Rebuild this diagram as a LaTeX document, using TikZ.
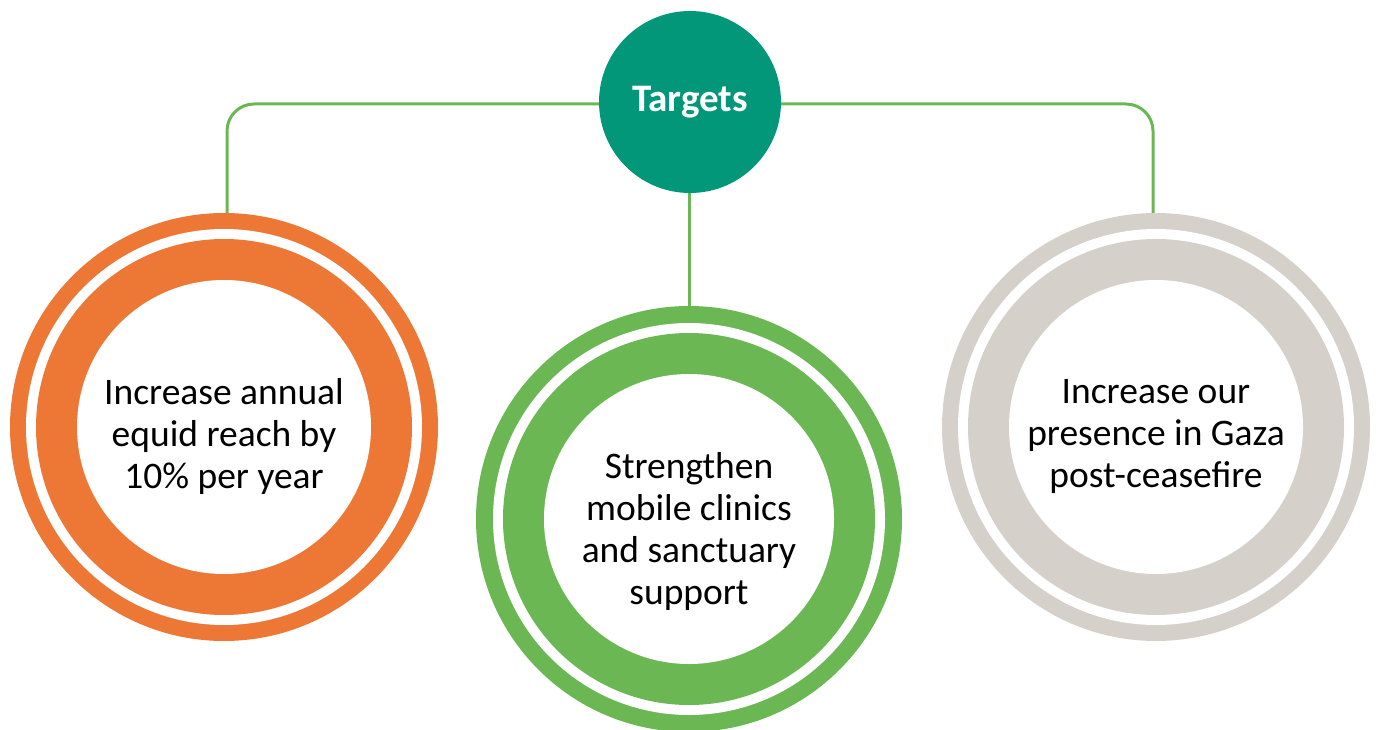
\documentclass[tikz,border=0pt]{standalone}
\usepackage{fontspec}
\setmainfont{Carlito}
\definecolor{cteal}{HTML}{03977A}
\definecolor{corange}{HTML}{ED7835}
\definecolor{cgreen}{HTML}{6BB753}
\definecolor{cgrey}{HTML}{D5D1CA}
\begin{document}
\begin{tikzpicture}[x=1pt,y=-1pt,
  hub/.style={circle,fill=cteal,minimum size=182pt,inner sep=0pt,text=white,font=\fontsize{39}{44}\selectfont\bfseries},
  ringouter/.style={circle,fill=#1,minimum size=428pt,inner sep=0pt},
  lbl/.style={align=center,font=\fontsize{37.5}{42}\selectfont,text=black},
  conn/.style={draw=cgreen,line width=3pt,rounded corners=27pt}]
\useasboundingbox (0,0) rectangle (1378,730);
\clip (0,0) rectangle (1378,730);
% outer circles
\node[ringouter=corange] (lc) at (224,427) {};
\node[ringouter=cgreen,minimum size=426pt] (mc) at (689,519) {};
\node[ringouter=cgrey] (rc) at (1156,427) {};
% inner rings
\foreach \c/\x/\y/\a/\b/\d in {corange/224/427/198/188/147, cgreen/689/519/196/186/145, cgrey/1156/427/198/188/147}{
  \fill[white] (\x,\y) circle[radius=\a];
  \fill[\c] (\x,\y) circle[radius=\b];
  \fill[white] (\x,\y) circle[radius=\d];
}
% hub
\node[hub] (tg) at (690,102) {Targets};
% connectors
\draw[conn] ([yshift=-2pt]tg.west) -| ([xshift=3pt]lc.north);
\draw[conn] ([yshift=-2pt]tg.east) -| ([xshift=-3pt]rc.north);
\draw[conn] ([xshift=-1pt]tg.south) -- (mc.north);
% labels
\node[lbl] (lt) at (224,436) {Increase annual\\equid reach by\\10\% per year};
\node[lbl] (mt) at (689,531) {Strengthen\\mobile clinics\\and sanctuary\\support};
\node[lbl] (rt) at (1156,436) {Increase our\\presence in Gaza\\post-ceasefire};
\end{tikzpicture}
\end{document}
